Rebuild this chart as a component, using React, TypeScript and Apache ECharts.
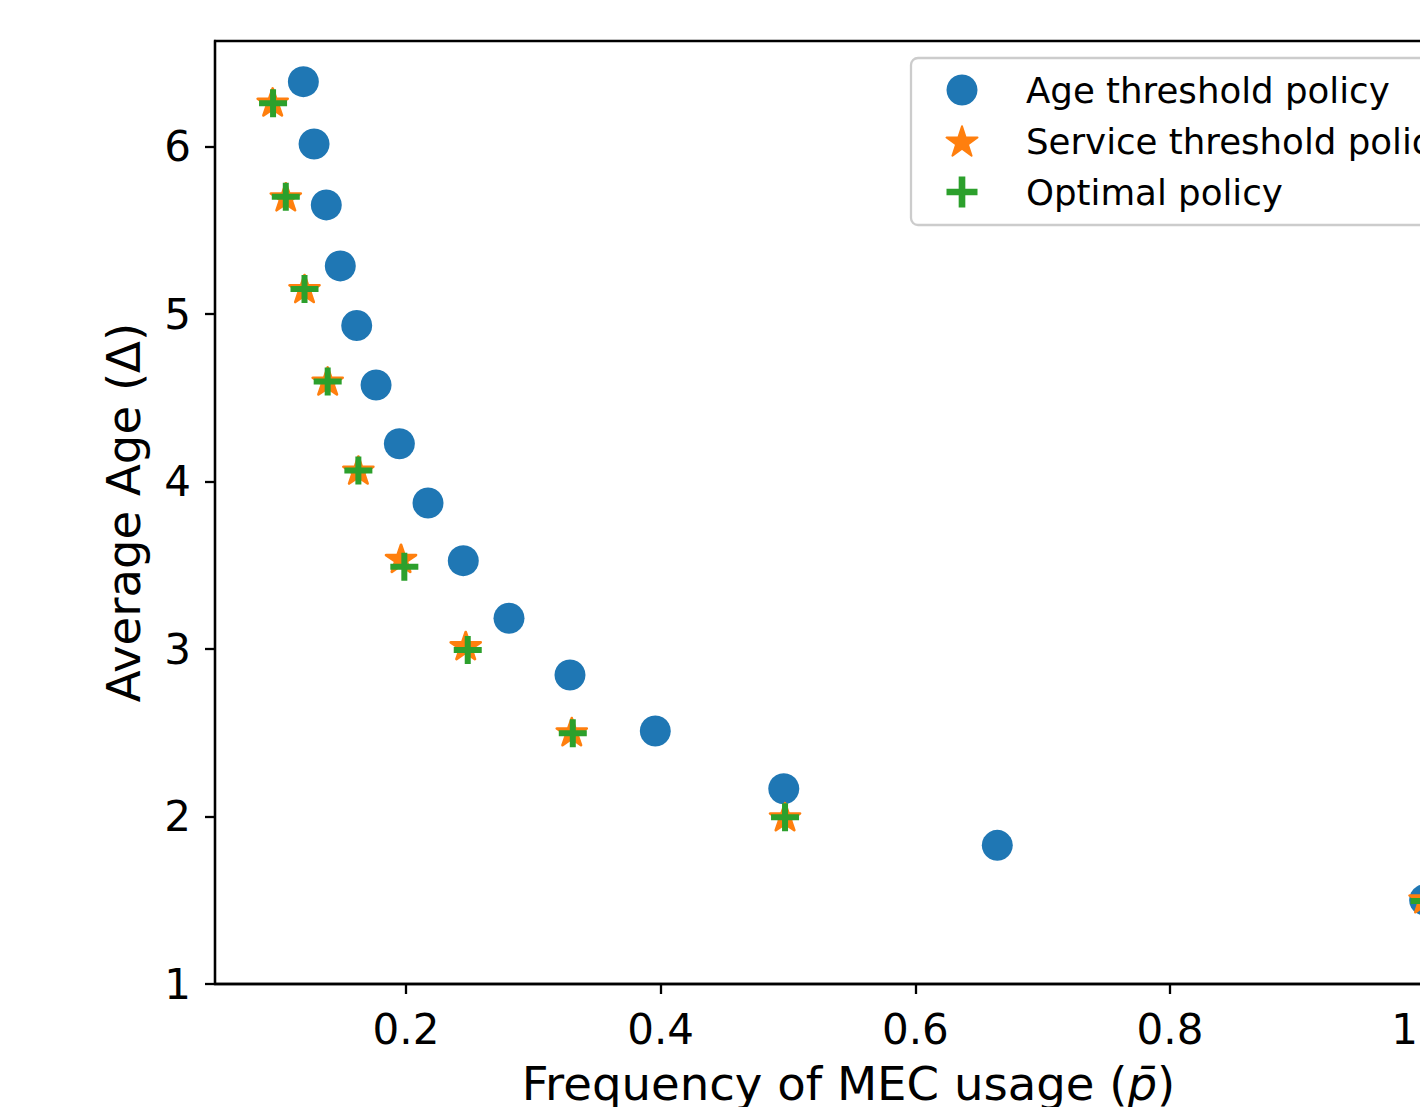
import React, { useEffect, useRef } from "react";
import * as echarts from "echarts";

// ---- data ----
const ageX = [0.1194, 0.1278, 0.1374, 0.1484, 0.1613, 0.1765, 0.1948, 0.2173, 0.245, 0.2809, 0.3288, 0.3958, 0.4967, 0.6644, 1.0];
const ageY = [6.388, 6.016, 5.652, 5.288, 4.932, 4.577, 4.226, 3.872, 3.528, 3.184, 2.845, 2.511, 2.166, 1.828, 1.502];

const serviceX = [0.0953, 0.1056, 0.1203, 0.1385, 0.1626, 0.1961, 0.2469, 0.3302, 0.4977, 1.0];
const serviceY = [6.267, 5.701, 5.153, 4.601, 4.069, 3.542, 3.021, 2.507, 1.999, 1.51];

const optimalX = [0.0956, 0.1056, 0.1203, 0.1385, 0.1626, 0.1987, 0.2485, 0.331, 0.4977, 1.0];
const optimalY = [6.259, 5.701, 5.15, 4.598, 4.066, 3.492, 2.995, 2.497, 1.995, 1.496];

const xTicks = [0.2, 0.4, 0.6, 0.8, 1.0];
const yTicks = [1, 2, 3, 4, 5, 6];

const seriesNames = ["Age threshold policy", "Service threshold policy", "Optimal policy"];
const xLabel = "Frequency of MEC usage ({i|p\u0304})";
const yLabel = "Average Age (\u0394)";

const STAR =
  "path://M100,0L122.45,69.1L195.11,69.1L136.33,111.8L158.78,180.9L100,138.2L41.22,180.9L63.67,111.8L4.89,69.1L77.55,69.1Z";
const PLUS =
  "path://M11,0L17,0L17,11L28,11L28,17L17,17L17,28L11,28L11,17L0,17L0,11L11,11Z";

const FONT = "DejaVu Sans";

const zip = (xs: number[], ys: number[]) => xs.map((x, i) => [x, ys[i]]);

export default function App() {
  const ref = useRef<HTMLDivElement>(null);
  useEffect(() => {
    if (!ref.current) return;
    const chart = echarts.init(ref.current, null, { renderer: "svg" });
    const axisCommon = {
      type: "value" as const,
      axisLine: { show: true, lineStyle: { color: "#000", width: 2.3 } },
      splitLine: { show: false },
    };
    chart.setOption({
      animation: false,
      backgroundColor: "#fff",
      grid: {
        left: 215,
        right: 118.1,
        top: 41,
        bottom: 123,
        show: true,
        borderColor: "#000",
        borderWidth: 2.3,
        containLabel: false,
        outerBoundsMode: "none",
      },
      legend: {
        show: true,
        orient: "vertical",
        left: 911,
        top: 58,
        padding: [14, 60, 15, 34.5],
        itemWidth: 31,
        itemHeight: 31,
        itemGap: 15,
        backgroundColor: "rgba(255,255,255,0.8)",
        borderColor: "#cccccc",
        borderWidth: 2.3,
        borderRadius: 7,
        selectedMode: false,
        data: seriesNames,
        textStyle: {
          fontSize: 35.6,
          fontFamily: FONT,
          color: "#000",
          lineHeight: 31,
          padding: [0, 0, 0, 43.5],
        },
      },
      xAxis: {
        ...axisCommon,
        min: 0.05,
        max: 1.045,
        axisTick: {
          show: true,
          inside: false,
          length: 10,
          lineStyle: { color: "#000", width: 2.3 },
          customValues: xTicks,
        },
        axisLabel: {
          customValues: xTicks,
          formatter: (v: number) => v.toFixed(1),
          fontSize: 42,
          fontFamily: FONT,
          color: "#000",
          margin: 24,
        },
        name: xLabel,
        nameLocation: "middle",
        nameGap: 76,
        nameTextStyle: {
          fontSize: 46.6,
          fontFamily: FONT,
          color: "#000",
          rich: { i: { fontSize: 46.6, fontFamily: FONT, color: "#000", fontStyle: "italic" } },
        },
      },
      yAxis: {
        ...axisCommon,
        min: 1,
        max: 6.631,
        axisTick: {
          show: true,
          inside: false,
          length: 10,
          lineStyle: { color: "#000", width: 2.3 },
          customValues: yTicks,
        },
        axisLabel: {
          customValues: yTicks,
          formatter: (v: number) => String(Math.round(v)),
          fontSize: 42,
          fontFamily: FONT,
          color: "#000",
          margin: 24,
        },
        name: yLabel,
        nameLocation: "middle",
        nameRotate: 90,
        nameGap: 68,
        nameTextStyle: { fontSize: 46.6, fontFamily: FONT, color: "#000" },
      },
      series: [
        {
          type: "scatter",
          name: seriesNames[0],
          data: zip(ageX, ageY),
          symbol: "circle",
          symbolSize: 31,
          itemStyle: { color: "#1f77b4", opacity: 1 },
          z: 2,
          emphasis: { disabled: true },
        },
        {
          type: "scatter",
          name: seriesNames[1],
          data: zip(serviceX, serviceY),
          symbol: STAR,
          symbolSize: [30, 28.5],
          symbolKeepAspect: true,
          itemStyle: {
            color: "#ff7f0e",
            opacity: 1,
            borderColor: "#ff7f0e",
            borderWidth: 2.6,
            borderJoin: "round",
          },
          z: 3,
          emphasis: { disabled: true },
        },
        {
          type: "scatter",
          name: seriesNames[2],
          data: zip(optimalX, optimalY),
          symbol: PLUS,
          symbolSize: 28,
          itemStyle: { color: "#2ca02c", opacity: 1 },
          z: 4,
          emphasis: { disabled: true },
        },
      ],
    });
    return () => chart.dispose();
  }, []);
  return (
    <div
      style={{
        position: "absolute",
        left: 0,
        top: 0,
        width: 1420,
        height: 1107,
        overflow: "hidden",
        background: "#fff",
      }}
    >
      <div ref={ref} style={{ width: 1600, height: 1107 }} />
    </div>
  );
}
